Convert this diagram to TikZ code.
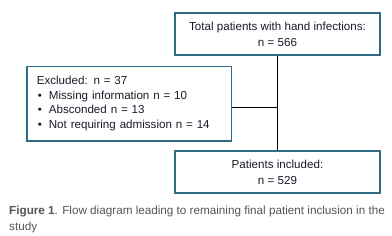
\documentclass[tikz,border=0pt]{standalone}
\usepackage{fontspec}
\setmainfont{Liberation Sans}
\definecolor{boxc}{HTML}{2F6A86}
\definecolor{capc}{HTML}{555555}
\definecolor{txtc}{HTML}{1A1A2A}
\begin{document}
\begin{tikzpicture}[x=1pt,y=-1pt,
  box/.style={draw=boxc,line width=1.6pt,inner sep=0pt,text=txtc,font=\fontsize{11.6}{16}\selectfont},
  conn/.style={draw=black,line width=0.9pt}]
\useasboundingbox (0,0) rectangle (392,236);
\node[box,minimum width=205,minimum height=42,align=center] (top) at (277.5,34) {Total patients with hand infections:\\n = 566};
\node[box,minimum width=205,minimum height=42,align=center] (inc) at (277.5,172) {Patients included:\\n = 529};
\node[box,minimum width=204.5,minimum height=74.5,align=left,anchor=north west,inner xsep=10pt,inner ysep=6.5pt,font=\fontsize{11.6}{14.6}\selectfont,text width=184.5pt] (exc) at (26,65.5) {Excluded: n = 37\\
\hspace*{1pt}\textbullet\hspace{7pt}Missing information n = 10\\
\hspace*{1pt}\textbullet\hspace{7pt}Absconded n = 13\\
\hspace*{1pt}\textbullet\hspace{7pt}Not requiring admission n = 14};
\draw[conn] (top.south) -- (inc.north);
\draw[conn] ([yshift=-4pt]exc.east) -- ([yshift=-4pt]exc.east -| top.south);
\node[anchor=north west,inner sep=0pt,text=capc,align=left,font=\fontsize{11.7}{16}\selectfont] (cap) at (9,205.5) {\textbf{Figure 1}. Flow diagram leading to remaining final patient inclusion in the\\study};
\end{tikzpicture}
\end{document}
